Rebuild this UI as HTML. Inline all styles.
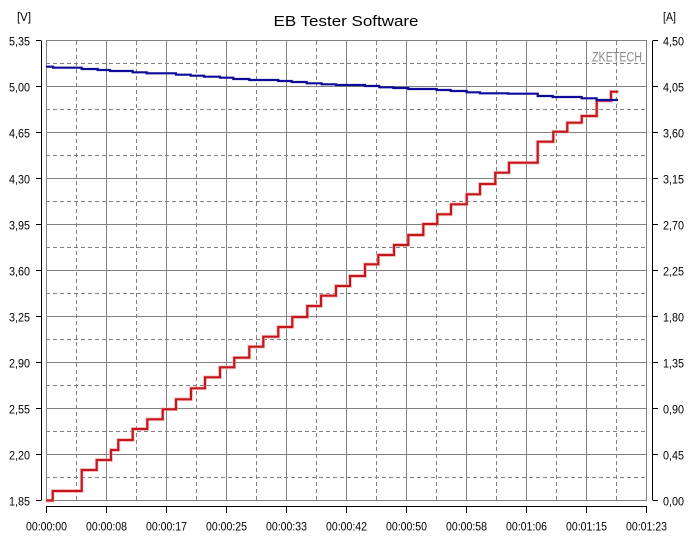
<!DOCTYPE html>
<html><head><meta charset="utf-8"><style>
html,body{margin:0;padding:0;background:#fff;}
svg{display:block;}
text{font-family:"Liberation Sans",Arial,sans-serif;fill:#000;}
</style></head><body>
<svg width="697" height="547" viewBox="0 0 697 547" xmlns="http://www.w3.org/2000/svg">
<rect x="0" y="0" width="697" height="547" fill="#fff"/>
<!-- title -->
<text x="346" y="26" font-size="15" text-anchor="middle" textLength="145" lengthAdjust="spacingAndGlyphs">EB Tester Software</text>
<text x="17" y="21" font-size="11.5" textLength="14" lengthAdjust="spacingAndGlyphs">[V]</text>
<text x="663" y="21" font-size="11.5" textLength="13" lengthAdjust="spacingAndGlyphs">[A]</text>

<!-- grid -->
<g stroke="#808080" stroke-width="1" shape-rendering="crispEdges" fill="none">
  <g stroke-dasharray="4 3">
    <path d="M76.5 41V501M136.5 41V501M196.5 41V501M256.5 41V501M316.5 41V501M376.5 41V501M436.5 41V501M496.5 41V501M556.5 41V501M616.5 41V501"/>
    <path d="M46 63.5H646M46 109.5H646M46 155.5H646M46 201.5H646M46 247.5H646M46 293.5H646M46 339.5H646M46 385.5H646M46 431.5H646M46 477.5H646"/>
  </g>
  <path d="M106.5 41V501M166.5 41V501M226.5 41V501M286.5 41V501M346.5 41V501M406.5 41V501M466.5 41V501M526.5 41V501M586.5 41V501"/>
  <path d="M46 86.5H646M46 132.5H646M46 178.5H646M46 224.5H646M46 270.5H646M46 316.5H646M46 362.5H646M46 408.5H646M46 454.5H646"/>
  <rect x="46.5" y="40.5" width="600" height="460"/>
</g>

<text x="642" y="61.5" font-size="13.5" text-anchor="end" style="fill:#8a8a8a" textLength="50" lengthAdjust="spacingAndGlyphs">ZKETECH</text>

<!-- axes -->
<g stroke="#000" stroke-width="1" shape-rendering="crispEdges" fill="none">
  <path d="M41.5 40.5V500.5"/>
  <path d="M36 40.5H41M36 86.5H41M36 132.5H41M36 178.5H41M36 224.5H41M36 270.5H41M36 316.5H41M36 362.5H41M36 408.5H41M36 454.5H41M36 500.5H41"/>
  <path d="M652.5 40.5V500.5"/>
  <path d="M653 40.5H658M653 86.5H658M653 132.5H658M653 178.5H658M653 224.5H658M653 270.5H658M653 316.5H658M653 362.5H658M653 408.5H658M653 454.5H658M653 500.5H658"/>
  <path d="M46 506.5H647"/>
  <path d="M46.5 507V513M106.5 507V513M166.5 507V513M226.5 507V513M286.5 507V513M346.5 507V513M406.5 507V513M466.5 507V513M526.5 507V513M586.5 507V513M646.5 507V513"/>
</g>

<!-- left labels -->
<g font-size="11.5" text-anchor="end">
<text x="30" y="45.5" textLength="21" lengthAdjust="spacingAndGlyphs">5,35</text>
<text x="30" y="91.5" textLength="21" lengthAdjust="spacingAndGlyphs">5,00</text>
<text x="30" y="137.5" textLength="21" lengthAdjust="spacingAndGlyphs">4,65</text>
<text x="30" y="183.5" textLength="21" lengthAdjust="spacingAndGlyphs">4,30</text>
<text x="30" y="229.5" textLength="21" lengthAdjust="spacingAndGlyphs">3,95</text>
<text x="30" y="275.5" textLength="21" lengthAdjust="spacingAndGlyphs">3,60</text>
<text x="30" y="321.5" textLength="21" lengthAdjust="spacingAndGlyphs">3,25</text>
<text x="30" y="367.5" textLength="21" lengthAdjust="spacingAndGlyphs">2,90</text>
<text x="30" y="413.5" textLength="21" lengthAdjust="spacingAndGlyphs">2,55</text>
<text x="30" y="459.5" textLength="21" lengthAdjust="spacingAndGlyphs">2,20</text>
<text x="30" y="505.5" textLength="21" lengthAdjust="spacingAndGlyphs">1,85</text>
</g>
<!-- right labels -->
<g font-size="11.5">
<text x="663" y="45.5" textLength="21" lengthAdjust="spacingAndGlyphs">4,50</text>
<text x="663" y="91.5" textLength="21" lengthAdjust="spacingAndGlyphs">4,05</text>
<text x="663" y="137.5" textLength="21" lengthAdjust="spacingAndGlyphs">3,60</text>
<text x="663" y="183.5" textLength="21" lengthAdjust="spacingAndGlyphs">3,15</text>
<text x="663" y="229.5" textLength="21" lengthAdjust="spacingAndGlyphs">2,70</text>
<text x="663" y="275.5" textLength="21" lengthAdjust="spacingAndGlyphs">2,25</text>
<text x="663" y="321.5" textLength="21" lengthAdjust="spacingAndGlyphs">1,80</text>
<text x="663" y="367.5" textLength="21" lengthAdjust="spacingAndGlyphs">1,35</text>
<text x="663" y="413.5" textLength="21" lengthAdjust="spacingAndGlyphs">0,90</text>
<text x="663" y="459.5" textLength="21" lengthAdjust="spacingAndGlyphs">0,45</text>
<text x="663" y="505.5" textLength="21" lengthAdjust="spacingAndGlyphs">0,00</text>
</g>
<!-- bottom labels -->
<g font-size="11.5" text-anchor="middle">
<text x="46.5" y="530.5" textLength="41" lengthAdjust="spacingAndGlyphs">00:00:00</text>
<text x="106.5" y="530.5" textLength="41" lengthAdjust="spacingAndGlyphs">00:00:08</text>
<text x="166.5" y="530.5" textLength="41" lengthAdjust="spacingAndGlyphs">00:00:17</text>
<text x="226.5" y="530.5" textLength="41" lengthAdjust="spacingAndGlyphs">00:00:25</text>
<text x="286.5" y="530.5" textLength="41" lengthAdjust="spacingAndGlyphs">00:00:33</text>
<text x="346.5" y="530.5" textLength="41" lengthAdjust="spacingAndGlyphs">00:00:42</text>
<text x="406.5" y="530.5" textLength="41" lengthAdjust="spacingAndGlyphs">00:00:50</text>
<text x="466.5" y="530.5" textLength="41" lengthAdjust="spacingAndGlyphs">00:00:58</text>
<text x="526.5" y="530.5" textLength="41" lengthAdjust="spacingAndGlyphs">00:01:06</text>
<text x="586.5" y="530.5" textLength="41" lengthAdjust="spacingAndGlyphs">00:01:15</text>
<text x="646.5" y="530.5" textLength="41" lengthAdjust="spacingAndGlyphs">00:01:23</text>
</g>

<!-- red current staircase -->
<g fill="none" stroke-linejoin="miter" stroke-linecap="butt">
<path stroke="#f4b8b8" stroke-opacity="0.6" stroke-width="4" d="M46,500.5 H52.7 V491 H81.7 V470 H96.7 V460 H111 V450 H118.3 V440 H132.7 V429 H147.3 V419.3 H162.7 V409.3 H176 V399.3 H191 V388.3 H205 V377.3 H220 V367.3 H234.3 V357.7 H249.3 V346.7 H263.3 V336.7 H278.3 V327 H292.3 V317 H307.3 V306 H321 V295.7 H336 V286 H350 V276 H365 V264.3 H378.3 V255 H394 V245 H408.3 V235 H423.3 V224 H437.3 V214.3 H451 V204.3 H466.7 V194.3 H480 V184 H495.3 V172.7 H509 V162.7 H537.7 V141.7 H553.3 V131.7 H567.3 V122.7 H581.7 V116 H596.7 V100.7 H611 V91.7 H618.3"/>
<path stroke="#c4161c" stroke-width="2.2" d="M46,500.5 H52.7 V491 H81.7 V470 H96.7 V460 H111 V450 H118.3 V440 H132.7 V429 H147.3 V419.3 H162.7 V409.3 H176 V399.3 H191 V388.3 H205 V377.3 H220 V367.3 H234.3 V357.7 H249.3 V346.7 H263.3 V336.7 H278.3 V327 H292.3 V317 H307.3 V306 H321 V295.7 H336 V286 H350 V276 H365 V264.3 H378.3 V255 H394 V245 H408.3 V235 H423.3 V224 H437.3 V214.3 H451 V204.3 H466.7 V194.3 H480 V184 H495.3 V172.7 H509 V162.7 H537.7 V141.7 H553.3 V131.7 H567.3 V122.7 H581.7 V116 H596.7 V100.7 H611 V91.7 H618.3"/>
<!-- blue voltage -->
<path stroke="#0c0c98" stroke-width="2.2" d="M46,66.7 H53 V67.7 H81.7 V69 H97.7 V70 H110 V71 H132.7 V72.3 H146.7 V73.3 H176 V74.7 H190.7 V75.7 H204 V76.7 H220 V77.7 H233.3 V79 H249.3 V80 H278.3 V81 H291.7 V82 H306.7 V83.3 H321.7 V84.3 H336 V85 H365 V86 H379.3 V87.3 H393.3 V88 H408.3 V89 H436.7 V90 H450.7 V91 H466.7 V92.3 H480 V93.3 H508 V93.7 H537.7 V96 H552.7 V97 H581.7 V98.3 H596.7 V100 H618"/>
</g>
</svg>
</body></html>
